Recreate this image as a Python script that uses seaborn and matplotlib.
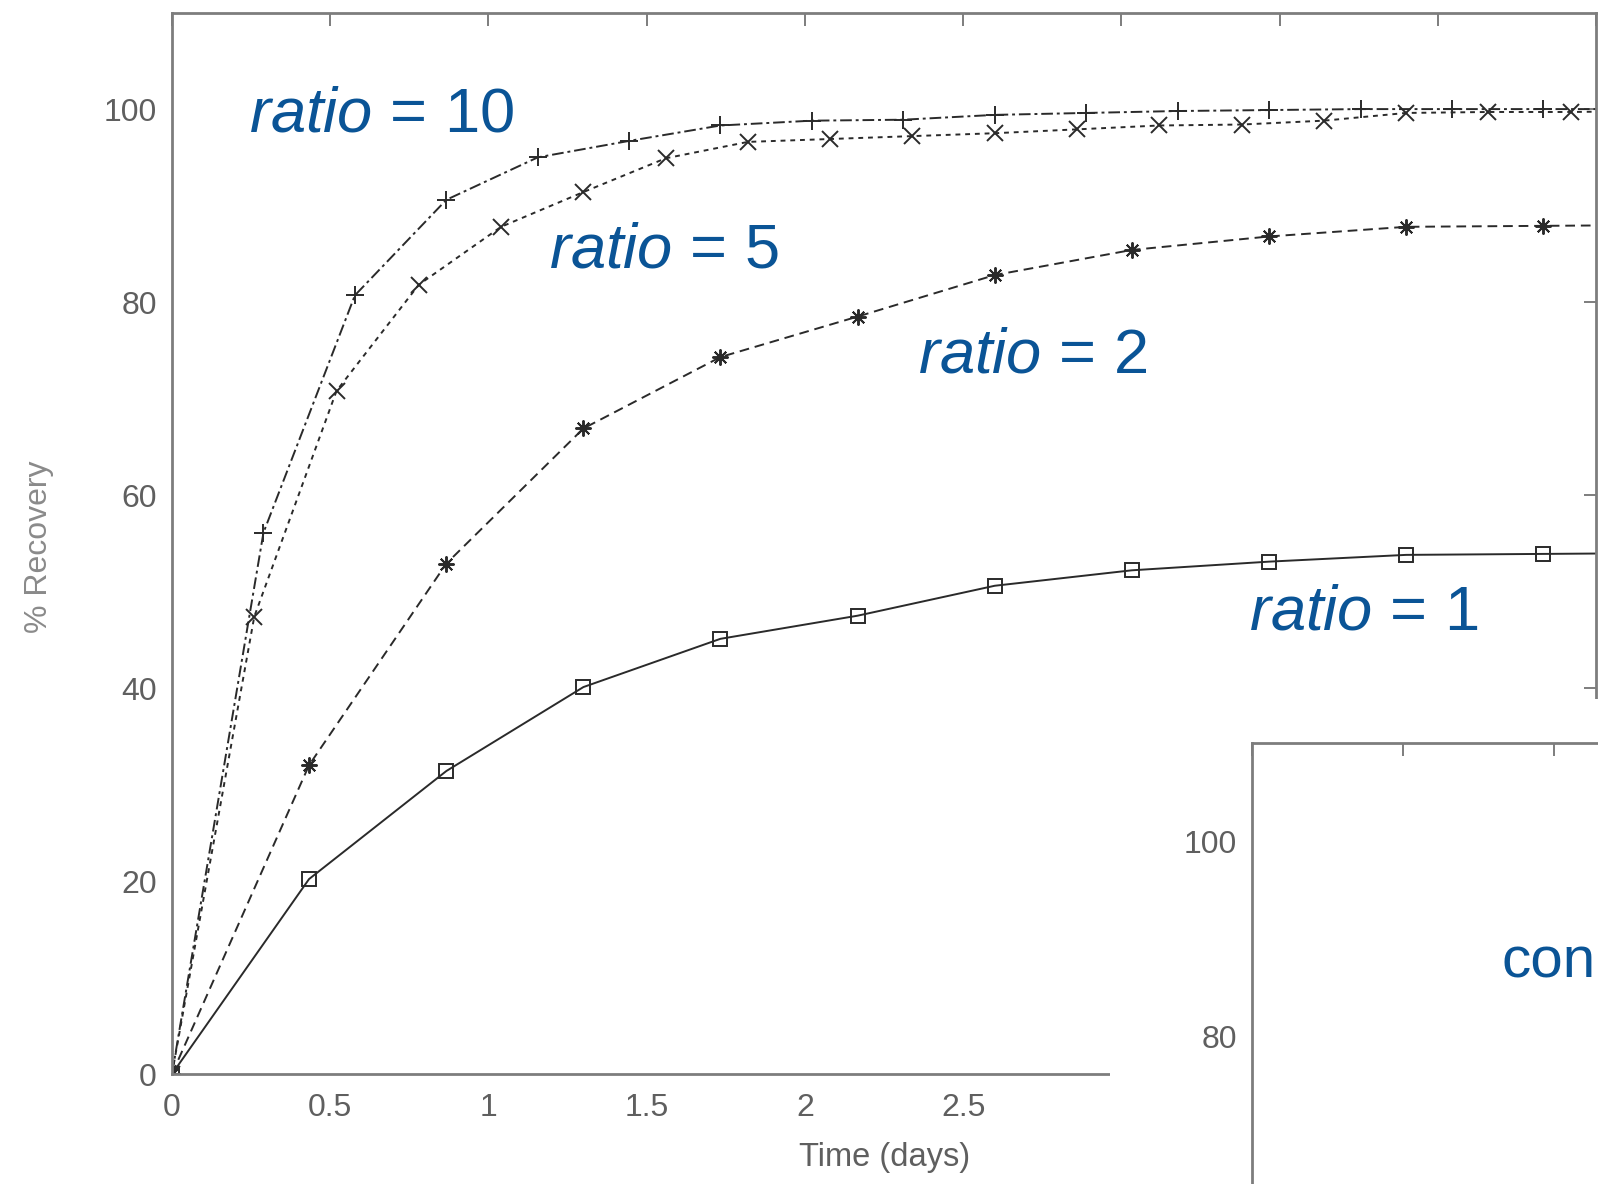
import matplotlib
matplotlib.use('Agg')
import matplotlib.pyplot as plt
import seaborn as sns
import pandas as pd
from matplotlib.patches import Rectangle
from matplotlib.ticker import FuncFormatter, MultipleLocator

# ---- data ----
times_a = [0, 0.433, 0.867, 1.3, 1.733, 2.167, 2.6, 3.033, 3.467, 3.9, 4.333, 4.767]
ratio1 = [0, 20.2, 31.4, 40.1, 45.1, 47.5, 50.6, 52.2, 53.1, 53.8, 53.9, 54.0]
ratio2 = [0, 32.0, 52.9, 66.9, 74.3, 78.5, 82.8, 85.4, 86.8, 87.8, 87.9, 88.0]

times_b = [0, 0.26, 0.52, 0.78, 1.04, 1.30, 1.56, 1.82, 2.08, 2.34, 2.60, 2.86,
           3.12, 3.38, 3.64, 3.90, 4.16, 4.42, 4.68]
ratio5 = [0, 47.4, 70.8, 81.8, 87.8, 91.4, 94.9, 96.6, 96.9, 97.2, 97.5, 97.9,
          98.3, 98.4, 98.8, 99.6, 99.7, 99.7, 99.8]

times_c = [0, 0.289, 0.578, 0.867, 1.156, 1.444, 1.733, 2.022, 2.311, 2.6, 2.889,
           3.178, 3.467, 3.756, 4.044, 4.333, 4.622]
ratio10 = [0, 56.1, 80.7, 90.6, 95.0, 96.7, 98.3, 98.8, 98.9, 99.4, 99.6,
           99.8, 99.9, 100.0, 100.0, 100.0, 100.0]

series_labels = ["ratio = 1", "ratio = 2", "ratio = 5", "ratio = 10"]
x_label = "Time (days)"
y_label = "% Recovery"
inset_text = "con"

# ---- style ----
sns.set_style('white')
plt.rcParams['font.family'] = ['Liberation Sans', 'DejaVu Sans']
plt.rcParams['mathtext.fontset'] = 'custom'
plt.rcParams['mathtext.rm'] = 'Liberation Sans'
plt.rcParams['mathtext.it'] = 'Liberation Sans:italic'

W, H = 1598, 1184
fig = plt.figure(figsize=(W / 100, H / 100), dpi=100)
fig.patch.set_facecolor('white')

SPINE = '#7d7d7d'
TICKLAB = '#5f5f5f'
LINE = '#2a2a2a'
BLUE = '#0a5496'

ax = fig.add_axes([172 / W, 1 - 1074 / H, 1424 / W, 1061.4 / H])

common = dict(ax=ax, color=LINE, linewidth=1.4, markeredgecolor=LINE,
              markeredgewidth=1.4, legend=False, errorbar=None)
sns.lineplot(x=times_a, y=ratio1, marker='s', markersize=10.5,
             markerfacecolor='none', linestyle='-', **common)
sns.lineplot(x=times_a, y=ratio2, marker=(8, 2, 0), markersize=11.5,
             linestyle=(0, (5, 3)), **common)
sns.lineplot(x=times_b, y=ratio5, marker='x', markersize=11.5,
             linestyle=(0, (2.5, 2.5)), **common)
sns.lineplot(x=times_c, y=ratio10, marker='+', markersize=12.5,
             linestyle=(0, (6, 2, 1.5, 2)), **common)

ax.set_xlim(0, 4.5)
ax.set_ylim(0, 110)
ax.xaxis.set_major_locator(MultipleLocator(0.5))
ax.yaxis.set_major_locator(MultipleLocator(20))
# labels beyond 2.5 lie under the overlaid inset panel
ax.xaxis.set_major_formatter(FuncFormatter(lambda v, p: f"{v:g}" if v < 2.75 else ""))
ax.yaxis.set_major_formatter(FuncFormatter(lambda v, p: f"{v:g}"))
for s in ax.spines.values():
    s.set_color(SPINE)
    s.set_linewidth(2.0)
ax.tick_params(direction='in', length=9, width=1.4, color=SPINE,
               labelcolor=TICKLAB, labelsize=23, top=True, right=True)
ax.tick_params(axis='y', pad=11)
ax.tick_params(axis='x', pad=14)
ax.set_xlabel(x_label, fontsize=23.5, color=TICKLAB)
ax.set_ylabel(y_label, fontsize=23, color='#8a8a8a')
ax.xaxis.set_label_coords(0.5007, -0.064)
ax.yaxis.set_label_coords(-0.083, 0.4965)

# white background of the overlaid inset panel
fig.add_artist(Rectangle((1110 / W, 0), 1 - 1110 / W, (1184 - 699) / H,
                         transform=fig.transFigure, facecolor='white',
                         edgecolor='none', zorder=2))

# inset panel (partly outside the frame)
ax2 = fig.add_axes([1252 / W, (1184 - 1821) / H, 604 / W, 1078 / H], zorder=3)
ax2.set_facecolor('white')
ax2.set_xlim(0, 2)
ax2.set_ylim(0, 110)
ax2.xaxis.set_major_locator(MultipleLocator(0.5))
ax2.yaxis.set_major_locator(MultipleLocator(20))
ax2.yaxis.set_major_formatter(FuncFormatter(lambda v, p: f"{v:g}" if v > 70 else ""))
for s in ax2.spines.values():
    s.set_color(SPINE)
    s.set_linewidth(2.0)
ax2.tick_params(direction='in', length=9, width=1.4, color=SPINE,
                labelcolor=TICKLAB, labelsize=23, top=True, right=True,
                labelbottom=False)
ax2.tick_params(axis='y', pad=11)

# annotations
def label(x, y, txt, size=45.5):
    head, tail = txt.split(' = ')
    fig.text(x / W, 1 - y / H, r'$\mathit{' + head + '}$ = ' + tail,
             fontsize=size, color=BLUE, ha='left', va='baseline', zorder=5)

label(249, 132, series_labels[3])
label(549, 268, series_labels[2])
label(918, 372, series_labels[1])
label(1249, 630, series_labels[0])
fig.text(1501 / W, 1 - 978 / H, inset_text, fontsize=42, color=BLUE,
         ha='left', va='baseline', zorder=5)

fig.savefig('out.png', dpi=100, facecolor='white')
